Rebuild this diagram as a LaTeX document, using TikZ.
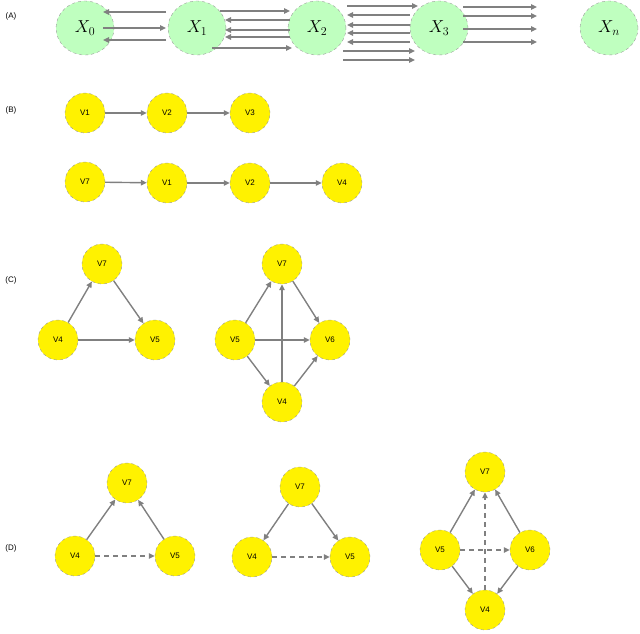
\documentclass[tikz,border=0pt]{standalone}
\usepackage{fontspec}
\setmainfont{Liberation Sans}
\usetikzlibrary{arrows.meta,shapes.geometric}
\begin{document}
\begin{tikzpicture}[x=1pt,y=-1pt,
  gn/.style={ellipse,draw=gray!80,dashed,fill=green!25!white,minimum width=58pt,minimum height=54pt,inner sep=0pt,font=\LARGE},
  yn/.style={circle,draw=gray!80,dashed,fill=yellow,minimum size=40pt,inner sep=0pt,font=\footnotesize},
  ar/.style={draw=gray,line width=1.4pt,-{Triangle[length=6pt,width=5.5pt]}},
  da/.style={ar,dash pattern=on 5pt off 4pt},
  lab/.style={font=\footnotesize}]
\useasboundingbox (0,0) rectangle (640,634);
\node[lab] (la) at (11,16) {(A)};
\node[lab] (lb) at (11,110) {(B)};
\node[lab] (lc) at (11,280) {(C)};
\node[lab] (ld) at (11,548) {(D)};
% A
\node[gn] (x0) at (85,28) {$X_0$};
\node[gn] (x1) at (197,28) {$X_1$};
\node[gn] (x2) at (317,28) {$X_2$};
\node[gn] (x3) at (439,28) {$X_3$};
\node[gn] (xn) at (609,28) {$X_n$};
\foreach \y in {12,40}{\draw[ar] (166,\y) -- (103,\y);}
\draw[ar] (103,28) -- (166,28);
\draw[ar] (220,11) -- (290,11);
\foreach \y in {20,30,37}{\draw[ar] (290,\y) -- (225,\y);}
\draw[ar] (212,48) -- (292,48);
\draw[ar] (347,6) -- (418,6);
\foreach \y in {15,25,33,42}{\draw[ar] (410,\y) -- (347,\y);}
\foreach \y in {51,60}{\draw[ar] (343,\y) -- (415,\y);}
\foreach \y in {7,16,29,42}{\draw[ar] (463,\y) -- (537,\y);}
% B
\node[yn] (b1) at (85,113) {V1};
\node[yn] (b2) at (167,113) {V2};
\node[yn] (b3) at (250,113) {V3};
\draw[ar] (b1) -- (b2); \draw[ar] (b2) -- (b3);
\node[yn] (b7) at (85,182) {V7};
\node[yn] (b1b) at (167,183) {V1};
\node[yn] (b2b) at (250,183) {V2};
\node[yn] (b4) at (342,183) {V4};
\draw[ar] (b7) -- (b1b); \draw[ar] (b1b) -- (b2b); \draw[ar] (b2b) -- (b4);
% C
\node[yn] (c7) at (102,264) {V7};
\node[yn] (c4) at (58,340) {V4};
\node[yn] (c5) at (155,340) {V5};
\draw[ar] (c4) -- (c7); \draw[ar] (c7) -- (c5); \draw[ar] (c4) -- (c5);
\node[yn] (d7) at (282,264) {V7};
\node[yn] (d5) at (235,340) {V5};
\node[yn] (d6) at (330,340) {V6};
\node[yn] (d4) at (282,402) {V4};
\draw[ar] (d5) -- (d7); \draw[ar] (d7) -- (d6); \draw[ar] (d5) -- (d6);
\draw[ar] (d4) -- (d7); \draw[ar] (d5) -- (d4); \draw[ar] (d4) -- (d6);
% D
\node[yn] (e7) at (127,483) {V7};
\node[yn] (e4) at (75,556) {V4};
\node[yn] (e5) at (175,556) {V5};
\draw[ar] (e4) -- (e7); \draw[ar] (e5) -- (e7); \draw[da] (e4) -- (e5);
\node[yn] (f7) at (300,487) {V7};
\node[yn] (f4) at (252,557) {V4};
\node[yn] (f5) at (350,557) {V5};
\draw[ar] (f7) -- (f4); \draw[ar] (f7) -- (f5); \draw[da] (f4) -- (f5);
\node[yn] (g7) at (485,472) {V7};
\node[yn] (g5) at (440,550) {V5};
\node[yn] (g6) at (530,550) {V6};
\node[yn] (g4) at (485,610) {V4};
\draw[ar] (g5) -- (g7); \draw[ar] (g6) -- (g7); \draw[da] (g4) -- (g7);
\draw[da] (g5) -- (g6); \draw[ar] (g5) -- (g4); \draw[ar] (g6) -- (g4);
\end{tikzpicture}
\end{document}
